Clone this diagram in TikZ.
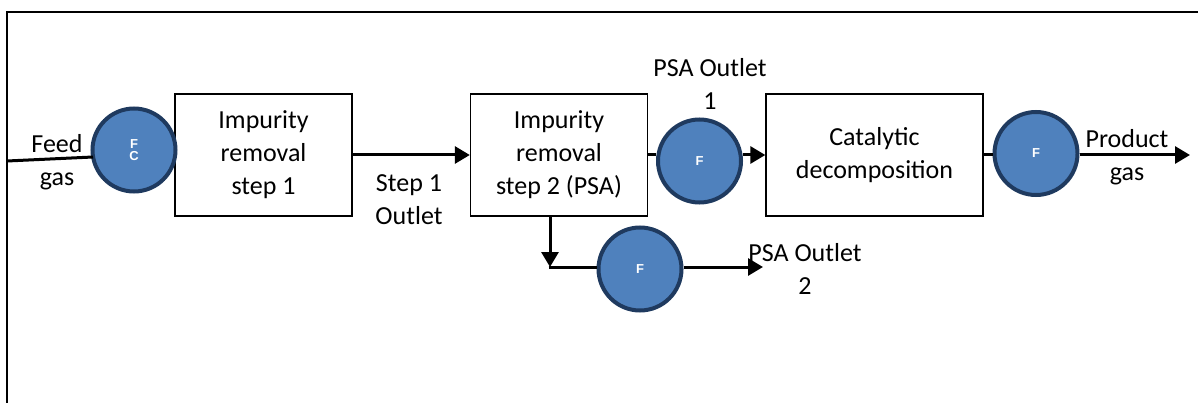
\documentclass[tikz,border=0pt]{standalone}
\usepackage{fontspec}
\setmainfont{Carlito}
\newfontfamily\lab{Liberation Sans}
\usetikzlibrary{arrows.meta}
\definecolor{fillblue}{HTML}{4F81BD}
\definecolor{edgeblue}{HTML}{1F3A5F}
\tikzset{
  unit/.style={draw, line width=1.4pt, minimum height=122pt, inner sep=0pt, align=center,
    font=\fontsize{26}{33}\selectfont},
  meter/.style={circle, draw=edgeblue, fill=fillblue, line width=4pt, minimum size=83pt,
    inner sep=0pt, align=center, text=white, font=\lab\bfseries\fontsize{13}{14}\selectfont},
  flow/.style={line width=3pt},
  flowarrow/.style={line width=3pt, -{Triangle[length=15pt,width=17pt]}},
  lbl/.style={align=center, inner sep=0pt, font=\fontsize{26}{33}\selectfont},
}
\begin{document}
\begin{tikzpicture}[x=1pt,y=-1pt]
\useasboundingbox (0,0) rectangle (1198,403);
% frame
\draw[line width=1.5pt] (7,403) -- (7,12) -- (1198,12);
% units
\node[unit, minimum width=177pt] (b1) at (263.5,155) {Impurity\\removal\\step 1};
\node[unit, minimum width=177pt] (b2) at (559,155) {Impurity\\removal\\step 2 (PSA)};
\node[unit, minimum width=217pt] (b3) at (874.5,155) {Catalytic\\decomposition};
% meters
\node[meter] (fc) at (134,150) {F\\[-2pt]C};
\node[meter] (f1) at (699.5,161) {F};
\node[meter] (f2) at (640,269) {F};
\node[meter] (f3) at (1036,153.5) {F};
% coordinates
\coordinate (feedin) at (7,161);
\coordinate (feedend) at (93,157);
\coordinate (br) at (550,267);
\coordinate (out2) at (763,267);
\coordinate (prod) at (1190,155);
% connectors
\draw[flow] (feedin) -- (feedend);
\draw[flowarrow] (b1.east) -- (b2.west);
\draw[flow] (b2.east) -- (b2.east -| f1.west);
\draw[flowarrow] (b2.east -| f1.east) -- (b3.west);
\draw[flow] (b3.east) -- (b3.east -| f3.west);
\draw[flowarrow] (b3.east -| f3.east) -- (prod);
\draw[flowarrow] (br |- b2.south) -- (br);
\draw[flow] ([xshift=-1.5pt]br) -- (br -| f2.west);
\draw[flowarrow] (br -| f2.east) -- (out2);
% labels
\node[lbl] (tfeed) at (57,162) {Feed\\gas};
\node[lbl] (tstep) at (409,200) {Step 1\\Outlet};
\node[lbl] (tpsa1) at (710,84) {PSA Outlet\\1};
\node[lbl] (tpsa2) at (805,269) {PSA Outlet\\2};
\node[lbl] (tprod) at (1127,157) {Product\\gas};
\end{tikzpicture}
\end{document}
